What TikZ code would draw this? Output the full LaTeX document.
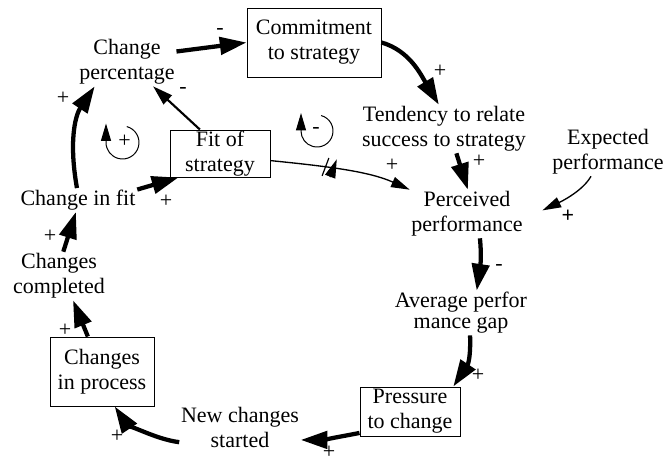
\documentclass[tikz,border=0pt]{standalone}
\usepackage{fontspec}
\setmainfont{Liberation Serif}
\usetikzlibrary{arrows.meta}
\usetikzlibrary{decorations.markings}
\tikzset{every picture/.style={line width=0.75pt}}
\tikzset{
  var/.style={inner sep=1pt, align=center, font=\rmfamily\fontsize{16.5}{18.75}\selectfont},
  stock/.style={var, draw, inner sep=0pt},
  sgn/.style={inner sep=0pt, font=\rmfamily\fontsize{16.5}{18.75}\selectfont},
  bigarr/.style={line width=3.2pt, -{Triangle[length=20pt,width=13pt]}},
  midarr/.style={line width=1.6pt, -{Triangle[length=15pt,width=9pt]}},
  thinarr/.style={line width=1pt, -{Triangle[length=14pt,width=8pt]}},
  loopsym/.style={line width=0.75pt, -{Triangle[length=13pt,width=7.5pt]}},
  delay/.style={postaction={decorate}, decoration={markings,
    mark=at position 0.42 with {\draw[line width=0.9pt] (-5pt,-7pt) -- (-2pt,7pt) (1pt,-7pt) -- (4pt,7pt);}}}
}

\begin{document}
\begin{tikzpicture}[x=0.75pt,y=0.75pt,yscale=-1,xscale=1]
\useasboundingbox (0,0) rectangle (666,461);

% Stocks
\node[stock, minimum width=100.5pt, minimum height=51.75pt] (commit) at (314,42.5) {Commitment\\to strategy};
\node[stock, minimum width=75pt, minimum height=35.25pt] (fit) at (220,153.5) {Fit of\\strategy};
\node[stock, minimum width=78pt, minimum height=51.75pt] (process) at (102,371.5) {Changes\\in process};
\node[stock, minimum width=75pt, minimum height=36.75pt] (pressure) at (410,411.5) {Pressure\\to change};

% Text Node
\node[var] (chpct) at (127,62) {Change\\percentage};
\node[var] (tend) at (444,129) {Tendency to relate\\success to strategy};
\node[var] (expect) at (608,152) {Expected\\performance};
\node[var] (perc) at (467,214) {Perceived\\performance};
\node[var] (gap) at (461,313) {Average perfor\\[-3pt]mance gap};
\node[var] (newch) at (240,427) {New changes\\started};
\node[var] (done) at (59,276) {Changes\\completed};
\node[var] (chfit) at (78,200) {Change in fit};

% Links
\draw[bigarr] (chpct.12) -- (commit.west);
\draw[bigarr] (commit.east) .. controls +(28,8) and +(-18,-30) .. (tend.102);
\draw[bigarr] (tend.-63) -- (perc.88);
\draw[thinarr, shorten >=15pt] (expect.-125) .. controls +(-10,18) and +(25,-12) .. (perc.-5);
\draw[thinarr, delay] (fit.-8) .. controls +(60,6) and +(-40,-18) .. (perc.157);
\draw[bigarr] (perc.-62) .. controls +(2,20) and +(3,-20) .. (gap.55);
\draw[bigarr] (gap.-68) .. controls +(1,30) and +(12,-18) .. (pressure.30);
\draw[bigarr] (pressure.-157) .. controls +(-15,3) and +(20,0) .. (newch.-12);
\draw[bigarr] (newch.-166) .. controls +(-25,-3) and +(10,15) .. (process.-70);
\draw[bigarr] (process.112) -- (done.-60);
\draw[bigarr] (done.80) -- (chfit.-100);
\draw[bigarr] (chfit.10) -- (fit.-150);
\draw[bigarr] (chfit.95) .. controls +(-8,-45) and +(-20,30) .. (chpct.-143);
\draw[midarr] (fit.130) -- (chpct.-43);

% Polarities
\node[sgn] (s1) at (220,31) {-};
\node[sgn] (s2) at (440,71) {+};
\node[sgn] (s3) at (479,161) {+};
\node[sgn] (s4) at (392,165) {+};
\node[sgn] (s5) at (568,216) {\textbf{+}};
\node[sgn] (s6) at (499,267) {-};
\node[sgn] (s7) at (478,375) {+};
\node[sgn] (s8) at (329,452) {+};
\node[sgn] (s9) at (117,436) {+};
\node[sgn] (s10) at (65,330) {+};
\node[sgn] (s11) at (50,236) {+};
\node[sgn] (s12) at (166,201) {+};
\node[sgn] (s13) at (63,98) {+};
\node[sgn] (s14) at (183,90) {-};

% Loop markers
\draw[loopsym] (122.5,142.5) ++(-75:16.5) arc[start angle=-75, end angle=180, radius=16.5] -- ++(0,-19);
\node[sgn] (rloop) at (124.5,141) {+};
\draw[loopsym] (317,131) ++(-75:16) arc[start angle=-75, end angle=180, radius=16] -- ++(0,-18);
\node[sgn] (bloop) at (316,130) {-};
\end{tikzpicture}
\end{document}
